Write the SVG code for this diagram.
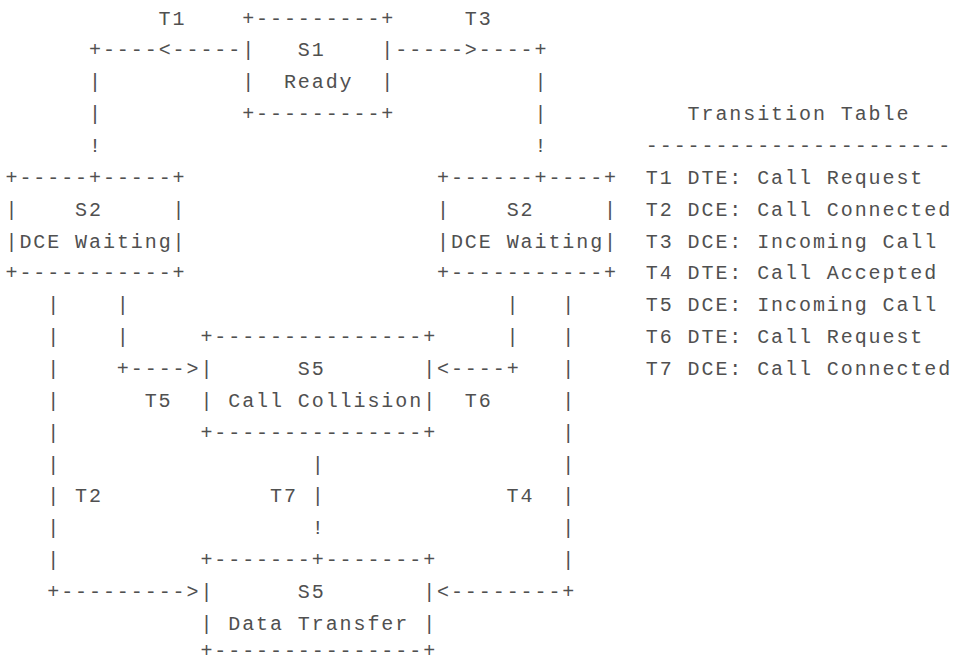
<svg xmlns="http://www.w3.org/2000/svg" width="960" height="663" viewBox="0 0 960 663" xml:space="preserve">
<style>
text{font-family:"Liberation Mono","DejaVu Sans Mono",monospace;font-size:20px;letter-spacing:1.92px;fill:#505050;white-space:pre}
</style>
<rect width="960" height="663" fill="#ffffff"/>
<g id="connectors">
<text x="158.62" y="24.6">T1</text>
<text x="464.86" y="24.6">T3</text>
<text x="89.02" y="56.45">+----&lt;-----</text>
<text x="395.26" y="56.45">-----&gt;----+</text>
<text x="89.02" y="88.3">|</text><text x="534.46" y="88.3">|</text>
<text x="89.02" y="120.15">|</text><text x="534.46" y="120.15">|</text>
<text x="89.02" y="152">!</text><text x="534.46" y="152">!</text>
<text x="47.26" y="311.25">|</text><text x="116.86" y="311.25">|</text><text x="506.62" y="311.25">|</text><text x="562.3" y="311.25">|</text>
<text x="47.26" y="343.1">|</text><text x="116.86" y="343.1">|</text><text x="506.62" y="343.1">|</text><text x="562.3" y="343.1">|</text>
<text x="47.26" y="374.95">|</text><text x="116.86" y="374.95">+----&gt;</text><text x="437.02" y="374.95">&lt;----+</text><text x="562.3" y="374.95">|</text>
<text x="47.26" y="406.8">|</text><text x="144.7" y="406.8">T5</text><text x="464.86" y="406.8">T6</text><text x="562.3" y="406.8">|</text>
<text x="47.26" y="438.65">|</text><text x="562.3" y="438.65">|</text>
<text x="47.26" y="470.5">|</text><text x="311.74" y="470.5">|</text><text x="562.3" y="470.5">|</text>
<text x="47.26" y="502.35">|</text><text x="75.1" y="502.35">T2</text><text x="269.98" y="502.35">T7</text><text x="311.74" y="502.35">|</text><text x="506.62" y="502.35">T4</text><text x="562.3" y="502.35">|</text>
<text x="47.26" y="534.2">|</text><text x="311.74" y="534.2">!</text><text x="562.3" y="534.2">|</text>
<text x="47.26" y="566.05">|</text><text x="562.3" y="566.05">|</text>
<text x="47.26" y="597.9">+---------&gt;</text><text x="437.02" y="597.9">&lt;--------+</text>
</g>
<g id="s1-ready">
<text x="242.14" y="24.6">+---------+</text>
<text x="242.14" y="56.45">|   S1    |</text>
<text x="242.14" y="88.3">|  Ready  |</text>
<text x="242.14" y="120.15">+---------+</text>
</g>
<g id="s2-dce-waiting-left">
<text x="5.5" y="183.85">+-----+-----+</text>
<text x="5.5" y="215.7">|    S2     |</text>
<text x="5.5" y="247.55">|DCE Waiting|</text>
<text x="5.5" y="279.4">+-----------+</text>
</g>
<g id="s2-dce-waiting-right">
<text x="437.02" y="183.85">+------+----+</text>
<text x="437.02" y="215.7">|    S2     |</text>
<text x="437.02" y="247.55">|DCE Waiting|</text>
<text x="437.02" y="279.4">+-----------+</text>
</g>
<g id="s5-call-collision">
<text x="200.38" y="343.1">+---------------+</text>
<text x="200.38" y="374.95">|      S5       |</text>
<text x="200.38" y="406.8">| Call Collision|</text>
<text x="200.38" y="438.65">+---------------+</text>
</g>
<g id="s5-data-transfer">
<text x="200.38" y="566.05">+-------+-------+</text>
<text x="200.38" y="597.9">|      S5       |</text>
<text x="200.38" y="629.75">| Data Transfer |</text>
<text x="200.38" y="656.8">+---------------+</text>
</g>
<g id="transition-table">
<text x="687.58" y="120.15">Transition Table</text>
<text x="645.82" y="152">----------------------</text>
<text x="645.82" y="183.85">T1 DTE: Call Request</text>
<text x="645.82" y="215.7">T2 DCE: Call Connected</text>
<text x="645.82" y="247.55">T3 DCE: Incoming Call</text>
<text x="645.82" y="279.4">T4 DTE: Call Accepted</text>
<text x="645.82" y="311.25">T5 DCE: Incoming Call</text>
<text x="645.82" y="343.1">T6 DTE: Call Request</text>
<text x="645.82" y="374.95">T7 DCE: Call Connected</text>
</g>
</svg>
